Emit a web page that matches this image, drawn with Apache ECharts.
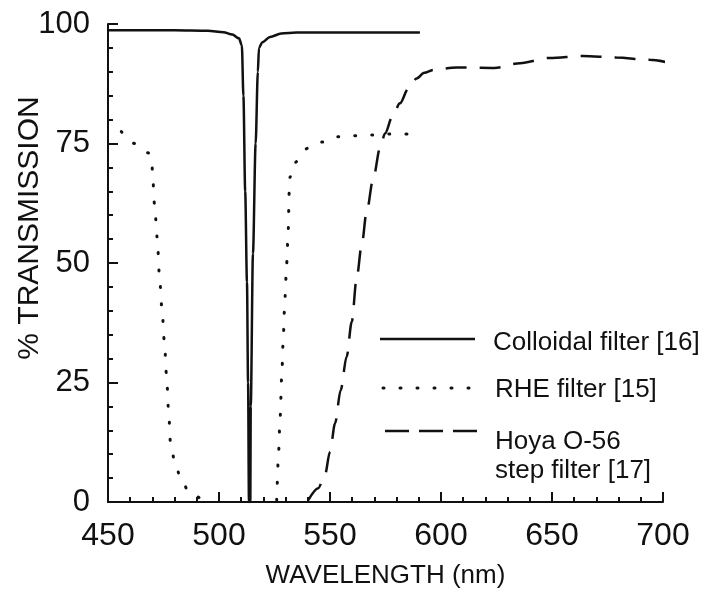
<!DOCTYPE html>
<html>
<head>
<meta charset="utf-8">
<script src="https://cdn.jsdelivr.net/npm/echarts@6/dist/echarts.min.js"></script>
<style>
  html, body { margin: 0; padding: 0; background: #fff; }
  #chart { width: 711px; height: 598px; }
</style>
</head>
<body>
<div id="chart"></div>
<script>
  // values: [wavelength nm, % transmission]
  var colloidal = [[450,98.7],[480,98.7],[495,98.6],[502,98.3],[506,97.8],[509,97.0],[510.3,95.5],[511,85],[511.8,65],
    [512.6,46],[513.1,25],[513.5,0],[514.1,0],[514.3,20],[515.3,52],[516.5,75],[517.5,90],[518,95],[519.5,96.2],
    [523,97.3],[528,98],[535,98.2],[560,98.2],[590.5,98.2]];
  var rheLeft = [[456,77.5],[462,75],[468.5,73],[469.7,71],[470,69.5],[470.9,62.5],[472.2,55.2],[473.1,47.8],[474.3,40.5],
    [475.4,33.5],[476.4,26.2],[477.3,18.9],[478.2,12],[480.2,8.2],[482.7,5],[486.6,2],[492.9,0.6],[496,0.2]];
  var rheRight = [[526,0.4],[526.1,3],[526.8,10],[527.5,17.5],[528.4,28],[529,35],[529.7,42.7],[530.5,50],[531.2,57],
    [531.6,64.6],[532,68],[534,71],[540,74],[546.4,75.3],[553.6,76.4],[561,76.6],[569,76.8],[577,77],[587,77]];
  var hoya = [[540.2,0.4],[544.7,2.9],[547.7,5.6],[550,10.5],[552.3,16.5],[554.8,23.4],[557.5,30.4],[559.8,37.7],
    [562,46.8],[564.3,53.8],[566.5,60.7],[569.5,67.7],[572.5,74],[574.8,77.1],[578,80.5],[581.5,83.4],[585.3,86.5],
    [589,88.6],[592.5,89.8],[596.5,90.4],[607,90.9],[624,90.8],[635.6,91.8],[649,92.9],[664,93.3],[679,93],
    [694,92.5],[701.8,92]];

  var legendNames = ['Colloidal filter [16]', 'RHE filter [15]', 'Hoya O-56\nstep filter [17]'];
  var xName = 'WAVELENGTH (nm)';
  var yName = '% TRANSMISSION';

  var font = '"Liberation Sans", Arial, sans-serif';
  var ink = '#111';

  var myChart = echarts.init(document.getElementById('chart'));
  var option = {
    backgroundColor: '#fff',
    animation: false,
    grid: { left: 108, right: 48, top: 24, bottom: 96 },
    legend: { show: false },
    xAxis: {
      type: 'value', min: 450, max: 700, interval: 50,
      name: xName, nameLocation: 'middle', nameGap: 61,
      nameTextStyle: { fontFamily: font, fontSize: 26, color: ink },
      axisLine: { lineStyle: { color: ink, width: 2 } },
      axisTick: { inside: true, length: 10, lineStyle: { color: ink, width: 2 } },
      minorTick: { show: true, splitNumber: 5, length: 5, lineStyle: { color: ink, width: 2 } },
      axisLabel: { fontFamily: font, fontSize: 32, color: ink, margin: 18 },
      splitLine: { show: false }
    },
    yAxis: {
      type: 'value', min: 0, max: 100, interval: 25,
      axisLine: { show: true, lineStyle: { color: ink, width: 2 } },
      axisTick: { show: true, inside: true, length: 10, lineStyle: { color: ink, width: 2 } },
      minorTick: { show: true, splitNumber: 5, length: 5, lineStyle: { color: ink, width: 2 } },
      axisLabel: { fontFamily: font, fontSize: 31, color: ink, margin: 18 },
      splitLine: { show: false }
    },
    graphic: [
      { type: 'text', x: 30, y: 228, rotation: Math.PI / 2,
        style: { text: yName, fontFamily: font, fontSize: 30, fill: ink, align: 'center', verticalAlign: 'middle' } },
      { type: 'line', shape: { x1: 380, y1: 339, x2: 475, y2: 339 }, style: { stroke: ink, lineWidth: 2.5 } },
      { type: 'line', shape: { x1: 383, y1: 388, x2: 472, y2: 388 },
        style: { stroke: ink, lineWidth: 3, lineDash: [1, 16], lineCap: 'round' } },
      { type: 'line', shape: { x1: 385, y1: 431, x2: 478, y2: 431 },
        style: { stroke: ink, lineWidth: 2.5, lineDash: [24, 10] } },
      { type: 'text', x: 493, y: 343,
        style: { text: legendNames[0], fontFamily: font, fontSize: 26, fill: ink, verticalAlign: 'middle' } },
      { type: 'text', x: 495, y: 390,
        style: { text: legendNames[1], fontFamily: font, fontSize: 26, fill: ink, verticalAlign: 'middle' } },
      { type: 'text', x: 495, y: 427,
        style: { text: legendNames[2], fontFamily: font, fontSize: 26, lineHeight: 29, fill: ink, verticalAlign: 'top' } }
    ],
    series: [
      { name: legendNames[0], type: 'line', data: colloidal, symbol: 'none', smooth: 0.3, smoothMonotone: 'x',
        lineStyle: { color: ink, width: 2.5 } },
      { name: legendNames[1], type: 'line', data: rheLeft, symbol: 'none', smooth: 0.3, smoothMonotone: 'x',
        lineStyle: { color: ink, width: 3, type: [1, 16], cap: 'round' } },
      { name: legendNames[1], type: 'line', data: rheRight, symbol: 'none', smooth: 0.3, smoothMonotone: 'x',
        lineStyle: { color: ink, width: 3, type: [1, 16], cap: 'round' } },
      { name: legendNames[2], type: 'line', data: hoya, symbol: 'none', smooth: 0.3, smoothMonotone: 'x', clip: false,
        lineStyle: { color: ink, width: 2.5, type: [21, 13] } }
    ]
  };
  myChart.setOption(option);
</script>
</body>
</html>
